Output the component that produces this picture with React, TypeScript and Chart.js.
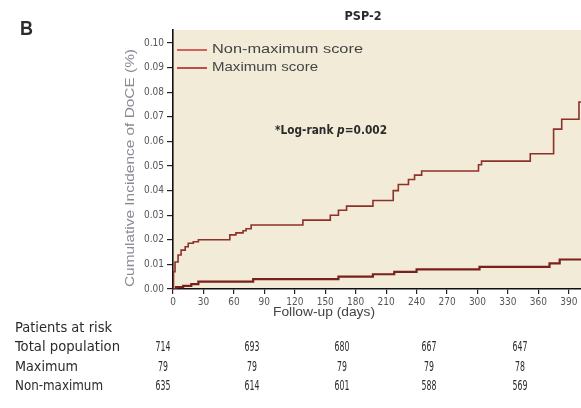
import React, { useEffect, useRef } from "react";
import { Chart, registerables } from "chart.js";

Chart.register(...registerables);

const xTicks = [0, 30, 60, 90, 120, 150, 180, 210, 240, 270, 300, 330, 360, 390];
const yTicks = [0, 0.01, 0.02, 0.03, 0.04, 0.05, 0.06, 0.07, 0.08, 0.09, 0.1];

const nonMaxDays = [0, 0.5, 2, 5, 8, 12, 15, 20, 25, 56, 62, 69, 72, 77, 128, 155, 163, 171, 197, 217, 222, 232, 238, 245, 301, 304, 352, 375, 383, 400, 402];
const nonMaxValues = [0, 0.007, 0.011, 0.0138, 0.0158, 0.0172, 0.0186, 0.0192, 0.02, 0.022, 0.0228, 0.0237, 0.0245, 0.026, 0.028, 0.03, 0.032, 0.0337, 0.036, 0.04, 0.0425, 0.0445, 0.0463, 0.048, 0.0505, 0.052, 0.055, 0.065, 0.069, 0.076, 0.076];

const maxDays = [0, 3, 10, 18, 25, 79, 163, 197, 218, 240, 302, 371, 381, 402];
const maxValues = [0, 0.0008, 0.0013, 0.002, 0.003, 0.004, 0.005, 0.006, 0.007, 0.008, 0.009, 0.0104, 0.012, 0.012];

const seriesLabels = ["Non-maximum score", "Maximum score"];
const riskRowLabels = ["Total population", "Maximum", "Non-maximum"];
const riskTotal = [714, 693, 680, 667, 647];
const riskMaximum = [79, 79, 79, 79, 78];
const riskNonMaximum = [635, 614, 601, 588, 569];

const NARROW = '"Liberation Sans Narrow", "DejaVu Sans Condensed", "Arial Narrow", sans-serif';
const SANS = '"Liberation Sans", Arial, sans-serif';

function drawText(ctx: CanvasRenderingContext2D, s: string, x: number, y: number, font: string, color: string, align: CanvasTextAlign, width?: number, sx?: number) {
  ctx.save();
  ctx.font = font;
  ctx.fillStyle = color;
  ctx.textBaseline = "middle";
  ctx.textAlign = align;
  let scale = sx ?? 1;
  if (width) scale = width / ctx.measureText(s).width;
  ctx.translate(x, y);
  ctx.scale(scale, 1);
  ctx.fillText(s, 0, 0);
  ctx.restore();
}

const extrasPlugin = {
  id: "extras",
  beforeDraw(chart: any) {
    const { ctx, chartArea } = chart;
    ctx.save();
    ctx.fillStyle = "#f1ebd8";
    ctx.fillRect(chartArea.left, chartArea.top, chartArea.right - chartArea.left, chartArea.bottom - chartArea.top);
    ctx.restore();
  },
  afterDraw(chart: any) {
    const { ctx } = chart;
    // Panel letter and title
    drawText(ctx, "B", 20, 29, `bold 20px ${SANS}`, "#2b2b2b", "left", 13);
    drawText(ctx, "PSP-2", 363, 17, `bold 12px ${NARROW}`, "#2b2b2b", "center", 37);

    // Y axis title
    ctx.save();
    ctx.translate(130, 168);
    ctx.rotate(-Math.PI / 2);
    drawText(ctx, "Cumulative Incidence of DoCE (%)", 0, 0, `13px ${SANS}`, "#8a8a94", "center", 238);
    ctx.restore();

    // Legend
    const legendColors = ["#c4413a", "#a82a26"];
    const legendY = [50, 68];
    const legendW = [151, 106];
    seriesLabels.forEach((lab, i) => {
      ctx.save();
      ctx.strokeStyle = legendColors[i];
      ctx.lineWidth = 1.6;
      ctx.beginPath();
      ctx.moveTo(177, legendY[i]);
      ctx.lineTo(207, legendY[i]);
      ctx.stroke();
      ctx.restore();
      drawText(ctx, lab, 212, legendY[i], `12px ${SANS}`, "#444", "left", legendW[i]);
    });

    // Log-rank annotation
    ctx.save();
    const parts: [string, string][] = [
      ["*Log-rank ", `bold 12px ${NARROW}`],
      ["p", `bold italic 12px ${NARROW}`],
      ["=0.002", `bold 12px ${NARROW}`],
    ];
    let total = 0;
    parts.forEach(([s, f]) => { ctx.font = f; total += ctx.measureText(s).width; });
    const sc = 112 / total;
    ctx.translate(275, 131);
    ctx.scale(sc, 1);
    ctx.fillStyle = "#2b2b2b";
    ctx.textBaseline = "middle";
    ctx.textAlign = "left";
    let cx = 0;
    parts.forEach(([s, f]) => { ctx.font = f; ctx.fillText(s, cx, 0); cx += ctx.measureText(s).width; });
    ctx.restore();

    // X axis title
    drawText(ctx, "Follow-up (days)", 324, 312, `13px ${SANS}`, "#444", "center", 102);

    // Risk table
    drawText(ctx, "Patients at risk", 15, 328, `14px ${NARROW}`, "#2b2b2b", "left", 97);
    const rowY = [347, 367, 386];
    const rowW = [105, 63, 88];
    const colX = [163, 252, 342, 429, 520];
    const rows = [riskTotal, riskMaximum, riskNonMaximum];
    riskRowLabels.forEach((lab, r) => {
      drawText(ctx, lab, 15, rowY[r], `14px ${NARROW}`, "#2b2b2b", "left", rowW[r]);
      rows[r].forEach((v, c) => {
        drawText(ctx, String(v), colX[c], rowY[r], `14px ${NARROW}`, "#2b2b2b", "center", undefined, 0.62);
      });
    });
  },
};

export default function App() {
  const ref = useRef<HTMLCanvasElement>(null);
  useEffect(() => {
    document.body.style.margin = "0";
    const canvas = ref.current!;
    const chart = new Chart(canvas, {
      type: "line",
      data: {
        datasets: [
          {
            label: seriesLabels[0],
            data: nonMaxDays.map((d, i) => ({ x: d, y: nonMaxValues[i] })),
            stepped: true,
            borderColor: "#8e3128",
            borderWidth: 1.6,
            pointRadius: 0,
            fill: false,
          },
          {
            label: seriesLabels[1],
            data: maxDays.map((d, i) => ({ x: d, y: maxValues[i] })),
            stepped: true,
            borderColor: "#7a211d",
            borderWidth: 2.2,
            pointRadius: 0,
            fill: false,
          },
        ],
      },
      options: {
        responsive: false,
        animation: false,
        layout: { padding: { top: 30, left: 0, right: 0, bottom: 0 } },
        plugins: { legend: { display: false }, tooltip: { enabled: false }, title: { display: false } },
        scales: {
          x: {
            type: "linear",
            min: 0,
            max: 402,
            afterBuildTicks: (s: any) => { s.ticks = xTicks.map((v) => ({ value: v })); },
            afterFit: (s: any) => { s.height = 119; },
            ticks: {
              autoSkip: false,
              maxRotation: 0,
              padding: 2,
              color: "#555",
              font: { family: NARROW, size: 10 },
            },
            grid: { drawOnChartArea: false, drawTicks: true, tickLength: 5, color: "#222", lineWidth: 1.2 },
            border: { display: true, color: "#111", width: 1.6 },
          },
          y: {
            type: "linear",
            min: 0,
            max: 0.1053,
            afterBuildTicks: (s: any) => { s.ticks = yTicks.map((v) => ({ value: v })); },
            afterFit: (s: any) => { s.width = 173; },
            ticks: {
              padding: 3,
              color: "#555",
              font: { family: NARROW, size: 10 },
              callback: (v: any) => Number(v).toFixed(2),
            },
            grid: { drawOnChartArea: false, drawTicks: true, tickLength: 6, color: "#222", lineWidth: 1.2 },
            border: { display: true, color: "#111", width: 1.6 },
          },
        },
      },
      plugins: [extrasPlugin],
    } as any);
    return () => chart.destroy();
  }, []);
  return <canvas ref={ref} width={581} height={408} style={{ display: "block" }} />;
}
